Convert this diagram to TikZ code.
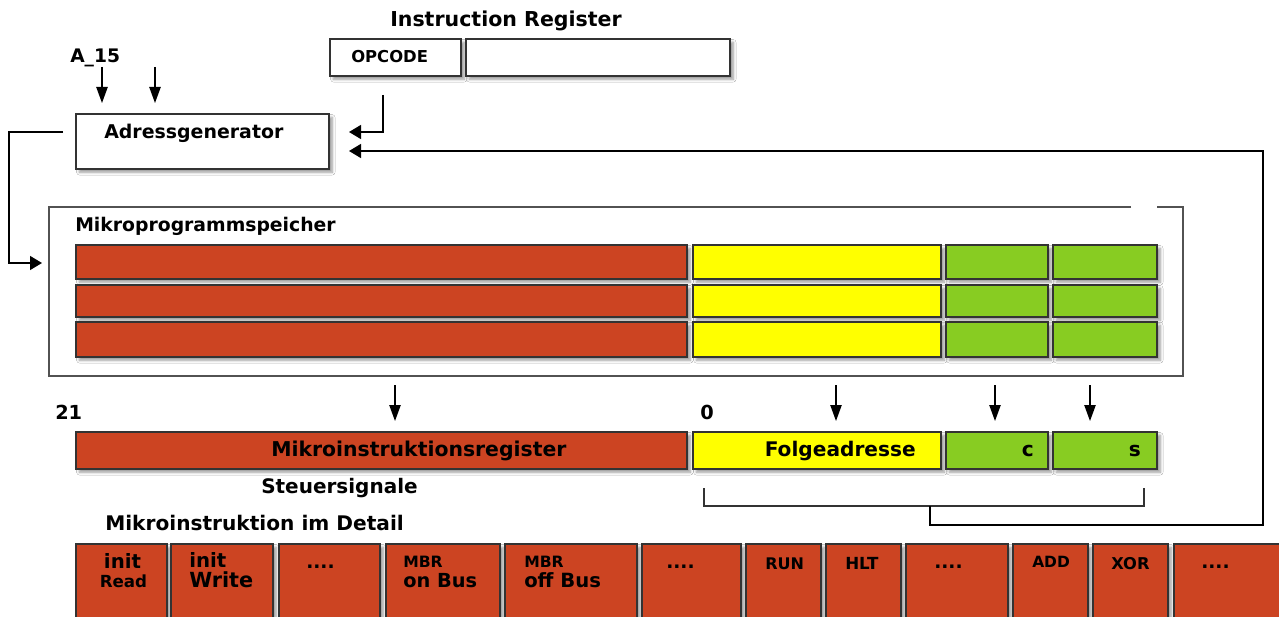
\documentclass[tikz,border=0pt]{standalone}
\usepackage{fontspec}
\setmainfont{DejaVu Sans}
\usetikzlibrary{arrows.meta,fit,shadows.blur}
\definecolor{rd}{HTML}{CC4422}
\definecolor{yl}{HTML}{FFFF00}
\definecolor{gr}{HTML}{88CC22}
\definecolor{bd}{HTML}{333333}
\newcommand{\fs}[1]{\fontsize{#1}{#1}\selectfont}
\tikzset{
  cell/.style={draw=bd, line width=1.3pt, inner sep=0pt,
    blur shadow={shadow xshift=2.5pt, shadow yshift=-2.5pt, shadow blur radius=2pt, shadow opacity=40}},
  lbl/.style={inner sep=0pt, anchor=base west, font=\bfseries},
  varr/.style={draw=black, line width=1pt, -{Triangle[length=12pt,width=8.5pt]}},
  harr/.style={draw=black, line width=1pt, -{Triangle[length=9pt,width=10.5pt]}},
  wire/.style={draw=bd, line width=1pt},
}
\begin{document}
\begin{tikzpicture}[x=0.75pt,y=-0.75pt]
\useasboundingbox (0,0) rectangle (1279,617);
\clip (0,0) rectangle (1279,617);
\fill[white] (0,0) rectangle (1279,617);

% Instruction register
\node[lbl] (irl) at (390,27) {\fs{15.4}Instruction Register};
\node[cell, fill=white, fit={(330,39) (461,76)}] (opc) {};
\node[cell, fill=white, fit={(466,39) (730,76)}] (irr) {};
\node[lbl] (opct) at (351,63) {\fs{12.3}OPCODE};

% Adressgenerator
\node[cell, fill=white, fit={(76,114) (329,169)}] (adr) {};
\node[lbl] (adrt) at (104,138) {\fs{14.2}Adressgenerator};
\node[lbl] (a15) at (70,63) {\fs{14}A\_15};
\coordinate (a1s) at (102,67); \coordinate (a1e) at (102,103);
\coordinate (a2s) at (155,67); \coordinate (a2e) at (155,103);
\draw[varr] (a1s) -- (a1e);
\draw[varr] (a2s) -- (a2e);

% OPCODE -> Adressgenerator
\coordinate (ops) at (383,95); \coordinate (ope) at (349,132);
\draw[harr] (ops) |- (ope);

% Mikroprogrammspeicher
\draw[draw=bd!85, line width=1pt] (1131,207) -- (49,207) -- (49,376) -- (1183,376) -- (1183,207) -- (1157,207);
\node[lbl] (mpst) at (75,231.5) {\fs{14.1}Mikroprogrammspeicher};
\foreach \r/\ya/\yb in {1/245/279, 2/285/317, 3/322/357} {
  \node[cell, fill=rd, fit={(76,\ya) (687,\yb)}] (m\r a) {};
  \node[cell, fill=yl, fit={(693,\ya) (941,\yb)}] (m\r b) {};
  \node[cell, fill=gr, fit={(946,\ya) (1048,\yb)}] (m\r c) {};
  \node[cell, fill=gr, fit={(1053,\ya) (1157,\yb)}] (m\r d) {};
}

% Adressgenerator -> Mikroprogrammspeicher
\coordinate (ls) at (63,132); \coordinate (le) at (42,263);
\draw[harr] (ls) -- (9,132) |- (le);

% Down arrows
\foreach \n/\x in {1/395, 2/836, 3/995, 4/1090} {
  \coordinate (d\n s) at (\x,385); \coordinate (d\n e) at (\x,421);
  \draw[varr] (d\n s) -- (d\n e);
}

% MIR
\node[lbl] (n21) at (55,419) {\fs{14.5}21};
\node[lbl] (n0) at (700,419) {\fs{14.5}0};
\node[cell, fill=rd, fit={(76,432) (687,469)}] (mira) {};
\node[cell, fill=yl, fit={(693,432) (941,469)}] (mirb) {};
\node[cell, fill=gr, fit={(946,432) (1048,469)}] (mirc) {};
\node[cell, fill=gr, fit={(1053,432) (1157,469)}] (mird) {};
\node[lbl] (mirat) at (271,456) {\fs{15.3}Mikroinstruktionsregister};
\node[lbl] (mirbt) at (764.5,456) {\fs{15.1}Folgeadresse};
\node[lbl] (mirct) at (1021.5,456) {\fs{15.1}c};
\node[lbl] (mirdt) at (1128.5,456) {\fs{15.1}s};
\node[lbl] (steu) at (261,493) {\fs{15}Steuersignale};

% Bracket and feedback
\coordinate (bl) at (704,488); \coordinate (br) at (1144,488);
\coordinate (bm) at (930,506);
\draw[wire] (bl) -- (704,506) -- (1144,506) -- (br);
\coordinate (fe) at (349,151);
\draw[harr] (bm) -- (930,525) -- (1263,525) -- (1263,151) -- (fe);

% Mikroinstruktion im Detail
\node[lbl] (detl) at (105,530.7) {\fs{15.1}Mikroinstruktion im Detail};
\foreach \n/\xa/\xb in {1/76/167, 2/171/273, 3/279/380, 4/386/500, 5/505/637, 6/642/741,
   7/746/821, 8/826/901, 9/906/1008, 10/1013/1088, 11/1093/1168, 12/1174/1300} {
  \node[cell, fill=rd, fit={(\xa,544) (\xb,650)}] (b\n) {};
}
\node[inner sep=0pt, anchor=base, font=\bfseries] (t1a) at (122.5,568) {\fs{14.8}init};
\node[inner sep=0pt, anchor=base, font=\bfseries] (t1b) at (123.5,587) {\fs{12.5}Read};
\node[lbl] (t2a) at (189,567.5) {\fs{14.8}init};
\node[lbl] (t2b) at (189,587.5) {\fs{15.6}Write};
\node[lbl] (t3) at (306,568) {\fs{14}....};
\node[lbl] (t4a) at (403,567) {\fs{11.7}MBR};
\node[lbl] (t4b) at (403,587) {\fs{14.5}on Bus};
\node[lbl] (t5a) at (524,567) {\fs{11.7}MBR};
\node[lbl] (t5b) at (524,587) {\fs{14.7}off Bus};
\node[lbl] (t6) at (666,568) {\fs{14}....};
\node[lbl] (t7) at (765,569) {\fs{12}RUN};
\node[lbl] (t8) at (845,569) {\fs{12.5}HLT};
\node[lbl] (t9) at (934,568) {\fs{14}....};
\node[lbl] (t10) at (1032,567.5) {\fs{11.6}ADD};
\node[lbl] (t11) at (1111,569) {\fs{12.2}XOR};
\node[lbl] (t12) at (1201,568) {\fs{14}....};
\end{tikzpicture}
\end{document}
